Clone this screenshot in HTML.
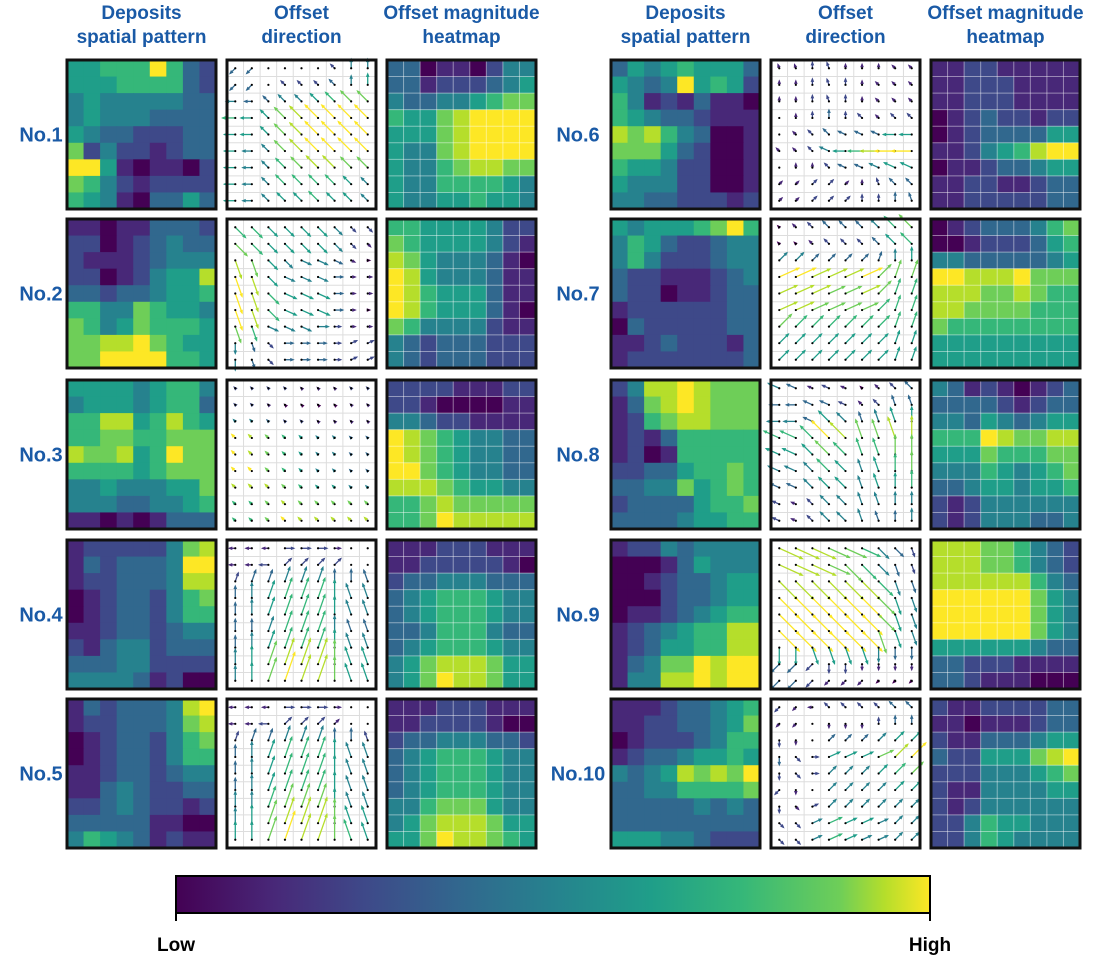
<!DOCTYPE html>
<html><head><meta charset="utf-8"><style>
body{margin:0;background:#fff;width:1097px;height:959px;overflow:hidden;font-family:"Liberation Sans",sans-serif}
svg text{font-family:"Liberation Sans",sans-serif;font-weight:bold}
</style></head><body>
<svg id="fig" width="1097" height="959" viewBox="0 0 1097 959" xmlns="http://www.w3.org/2000/svg">
<defs>
<linearGradient id="vir" x1="0" x2="1" y1="0" y2="0">
<stop offset="0" stop-color="#440154"/><stop offset="0.13" stop-color="#482878"/><stop offset="0.25" stop-color="#3e4989"/><stop offset="0.38" stop-color="#31688e"/><stop offset="0.5" stop-color="#26828e"/><stop offset="0.63" stop-color="#1f9e89"/><stop offset="0.75" stop-color="#35b779"/><stop offset="0.88" stop-color="#6ece58"/><stop offset="0.94" stop-color="#b5de2b"/><stop offset="1" stop-color="#fde725"/>
</linearGradient>
</defs>
<g id="panels"></g>
<g>
<rect x="176" y="876" width="754" height="37" fill="url(#vir)" stroke="#000" stroke-width="2"/>
<line x1="176" y1="913" x2="176" y2="921" stroke="#000" stroke-width="2"/>
<line x1="930" y1="913" x2="930" y2="921" stroke="#000" stroke-width="2"/>
<text x="176" y="951" font-size="19" text-anchor="middle" fill="#000">Low</text>
<text x="930" y="951" font-size="19" text-anchor="middle" fill="#000">High</text>
</g>
</svg>
<script>
const panelLabels=["No.1","No.2","No.3","No.4","No.5","No.6","No.7","No.8","No.9","No.10"];
const headerLines=[["Deposits","spatial pattern"],["Offset","direction"],["Offset magnitude","heatmap"]];
const deposits=[
["556669632","555666632","454444433","454443333","543322233","724221233","995101102","764212222","654103353"],
["110113332","220123433","211123444","220124558","332334556","664476554","764576665","778897655","779999665"],
["555545664","455545663","668856865","667766777","877856977","666656777","445444557","444334456","110101333"],
["122222478","132333499","122333488","012332467","012332466","112332344","213442333","333442222","444431200"],
["132333489","122333478","012332467","012332466","112332344","113432233","223432212","333331100","465431211"],
["354565553","543495652","641213110","654332111","878643001","777532001","655422001","544422001","443322212"],
["545556796","465322344","464222344","322111234","322011233","122222233","032222233","112322213","122222223"],
["248898777","137898777","126788777","121366666","120166666","223356676","334475676","233335667","333345566"],
["122434444","000135444","001233455","000233455","011234566","123456688","123556688","134779899","144889899"],
["111233456","112233457","012223466","123345565","434587879","334466667","333334343","333333333","555443222"]];
const offsets=[
["330110244","331222345","433445677","655789999","555789999","544789999","544678877","544666654","544556554"],
["665555422","765555421","875444310","985444311","986555311","986555310","764444211","432333222","432333222"],
["222211122","221000011","443221111","987654433","987654433","997654433","888765544","667877777","667988888"],
["111222111","112222210","233444333","345666544","345666544","334666433","345666544","457888755","457988755"],
["111222111","112222100","233444332","345666544","345666544","345666544","446777544","457888755","557988765"],
["112211111","112221111","112221111","012322122","012333355","112456899","011233455","112211233","112222233"],
["012333467","001222356","443333345","998889777","888778766","887777666","766666666","555555555","555555555"],
["431210123","333321233","443543455","666987788","555766677","444654567","334554556","212444444","212444334"],
["888776432","888776432","888888643","999999754","999999754","999999754","555555433","332221111","332111000"],
["211222233","110111233","211333455","322555789","222444567","211444455","212444444","224655444","224654444"]];
const directions=[
["zz....qww","zz.qqqqww","aaqqqqqqq","aaqqqqqqq","aaqqqqqqq","aaqqqqqqq","aaqqqqqqq","aaqqqqqqq","aaqqqqqqq"],
["ccccccccc","ccccccccc","XXccCCCCd","XXcCCCddd","XXcCCCddd","XXcCCCddd","XXCCCdddd","xXcddddRR","xXcddddRR"],
["qqqqqqqqq","qqqqqqqqq","qqqqqqqqq","qqqqqqqqq","qqqqqqqqq","qqqqqqqqq","qqqqqqqqq","qqqqqqqqq","qqqqqqqqq"],
["aaadddd..","aaaeeee..","EEEEEEwwW","wwEEEEwWW","wwEEEEwWW","wwEEEEwWW","wwEEEEwWW","wwEEEEwWW","wwEEEEwWW"],
["aaadddd..","aaaeeee..","EEEEEEwwW","wwEEEEwWW","wwEEEEwWW","wwEEEEwWW","wwEEEEwWW","wwEEEEwWW","wwEEEEwWW"],
["WWwWwwwqq","wwwWwwqqq","wwwWwwqqq",".wwwwqqqq",".qqqQQQaa","qqqQaaaaa",".wwqQQQQQ","eeeeewWqq","eeeeewwwW"],
["qqqqqqqqq","qqqqqqqqq","eeeeeeEww","RRRRRReEE","RRRRRReEE","RRRRRReEE","eeeeeeeEE","eeeeeeeEE","eeeeeeeEE"],
["QQQQQqqqq","aaQQQqqWW","aaQqqWWWw","QQqqqWWWw","QQqqqWWww","QQqqqWWww","QQqqqWWww","QQqqqWWww","QQqqqWWww"],
["CCCCCCccX","CCCCcccXX","cccccccXX","cccccccXX","cccccccXX","ccccccXXX","xxXXXXxxx","zzzxxxxxx","zzzzzzzzz"],
["zzaqqqqqq","zz.xxxwww","xx.eeeeee","xcdRRRRee","xcdeeeeee","zx.eeeeee","xcReeeeee","ccRRRRRee","ccRRRRRee"]];
const arrowScales=[1.1,1.25,0.3,1.8,1.8,1.2,1.3,1.45,1.7,1.2];

const VSTOPS=[[68,1,84],[72,40,120],[62,73,137],[49,104,142],[38,130,142],[31,158,137],[53,183,121],[110,206,88],[181,222,43],[253,231,37]];
function viridis(t){t=Math.max(0,Math.min(1,t));const f=t*(VSTOPS.length-1);const i=Math.min(VSTOPS.length-2,Math.floor(f));const u=f-i;const a=VSTOPS[i],b=VSTOPS[i+1];return `rgb(${Math.round(a[0]+(b[0]-a[0])*u)},${Math.round(a[1]+(b[1]-a[1])*u)},${Math.round(a[2]+(b[2]-a[2])*u)})`;}
const DIRV={q:[-1,-1],w:[0,-1],e:[1,-1],a:[-1,0],d:[1,0],z:[-1,1],x:[0,1],c:[1,1],Q:[-1,-0.45],W:[-0.35,-1],E:[0.35,-1],R:[1,-0.45],C:[1,0.45],X:[0.35,1]};
const NS="http://www.w3.org/2000/svg";
const root=document.getElementById('panels');
const SZ=149, N=9, CS=SZ/N;
const colX=[[67,227,387],[611,771,931]];
const rowY=[60,219,380,540,699];
function mk(tag,attrs,parent){const e=document.createElementNS(NS,tag);for(const k in attrs)e.setAttribute(k,attrs[k]);parent.appendChild(e);return e;}

// headers
[0,1].forEach(side=>{
  headerLines.forEach((lines,c)=>{
    const t=mk('text',{x:colX[side][c]+SZ/2,'text-anchor':'middle','font-size':19,fill:'#1a5aa6'},root);
    
    
    lines.forEach((ln,i)=>{const s=mk('tspan',{x:colX[side][c]+SZ/2,y:19+i*24},t);s.textContent=ln;});
  });
});

function heatmap(g,x0,y0,grid,withLines){
  for(let r=0;r<N;r++)for(let c=0;c<N;c++){
    const v=+grid[r][c];
    const cell=mk('rect',{x:x0+c*CS,y:y0+r*CS,width:CS+0.5,height:CS+0.5,fill:viridis(v/9)},g);
    
    
  }
  if(withLines){for(let i=1;i<N;i++){
    mk('line',{x1:x0+i*CS,y1:y0,x2:x0+i*CS,y2:y0+SZ,stroke:'rgba(255,255,255,0.45)','stroke-width':1},g);
    mk('line',{x1:x0,y1:y0+i*CS,x2:x0+SZ,y2:y0+i*CS,stroke:'rgba(255,255,255,0.45)','stroke-width':1},g);}}
}
function quiver(g,x0,y0,dirs,mags,scale){
  mk('rect',{x:x0,y:y0,width:SZ,height:SZ,fill:'#fff'},g);
  for(let i=0;i<=N;i++){
    mk('line',{x1:x0+i*CS,y1:y0,x2:x0+i*CS,y2:y0+SZ,stroke:'#ddd','stroke-width':1},g);
    mk('line',{x1:x0,y1:y0+i*CS,x2:x0+SZ,y2:y0+i*CS,stroke:'#ddd','stroke-width':1},g);
  }
  for(let r=0;r<N;r++)for(let c=0;c<N;c++){
    const cx=x0+(c+0.5)*CS, cy=y0+(r+0.5)*CS;
    const m=+mags[r][c]; const d=dirs[r][c];
    if(d!=='.'&&DIRV[d]){
      const v=DIRV[d];const n=Math.hypot(v[0],v[1]);const ux=v[0]/n,uy=v[1]/n;
      const L=scale*(m+1)/10*CS;
      const ex=cx+ux*L, ey=cy+uy*L;const col=viridis(m/9);
      const a=mk('line',{x1:cx,y1:cy,x2:ex,y2:ey,stroke:col,'stroke-width':1.3},g);
      
      
      const h=3;const px=-uy,py=ux;
      mk('polygon',{points:`${ex+ux*1.5},${ey+uy*1.5} ${ex-ux*h+px*h*0.6},${ey-uy*h+py*h*0.6} ${ex-ux*h-px*h*0.6},${ey-uy*h-py*h*0.6}`,fill:col},g);
    }
    mk('circle',{cx:cx,cy:cy,r:1.1,fill:'#000'},g);
  }
}

for(let p=0;p<10;p++){
  const side=p<5?0:1, row=p%5;
  const y0=rowY[row];
  const g=mk('g',{},root);
  
  
  const lbl=mk('text',{x:side===0?(p===9?0:41):(p===9?571:578),y:y0+SZ/2+7,'text-anchor':'middle','font-size':20,fill:'#1a5aa6'},g);
  lbl.setAttribute('x', side===0?41:578);
  lbl.textContent=panelLabels[p];
  
  

  const g1=mk('g',{},g);
  
  
  heatmap(g1,colX[side][0],y0,deposits[p],false);
  mk('rect',{x:colX[side][0],y:y0,width:SZ,height:SZ,fill:'none',stroke:'#111','stroke-width':3},g1);

  const g2=mk('g',{},g);
  
  
  quiver(g2,colX[side][1],y0,directions[p],offsets[p],arrowScales[p]);
  mk('rect',{x:colX[side][1],y:y0,width:SZ,height:SZ,fill:'none',stroke:'#111','stroke-width':3},g2);

  const g3=mk('g',{},g);
  
  
  heatmap(g3,colX[side][2],y0,offsets[p],true);
  mk('rect',{x:colX[side][2],y:y0,width:SZ,height:SZ,fill:'none',stroke:'#111','stroke-width':3},g3);
}
</script>
</body></html>
